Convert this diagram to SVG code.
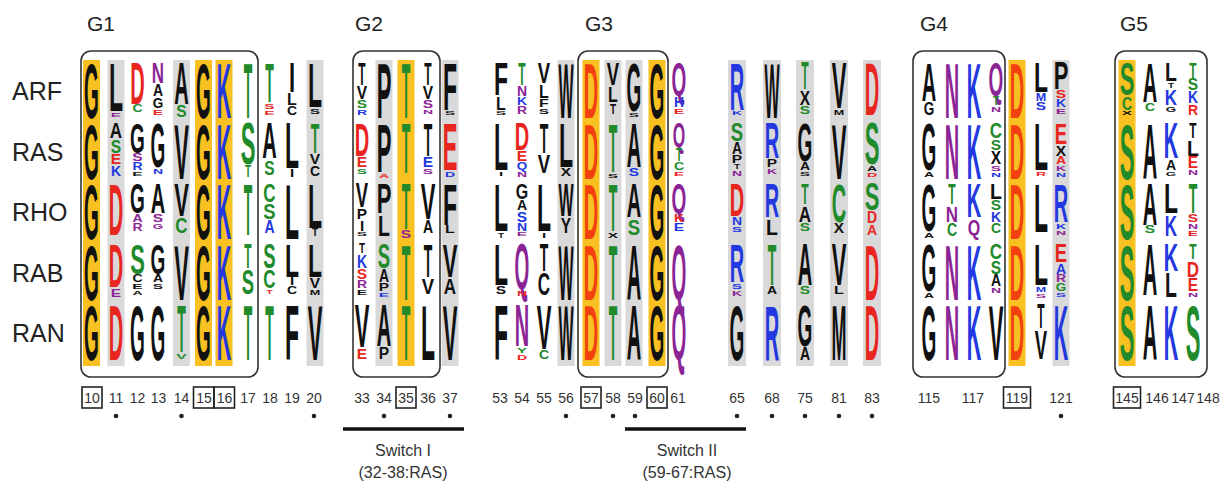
<svg xmlns="http://www.w3.org/2000/svg" width="1224" height="484" viewBox="0 0 1224 484">
<style>
.lg text{font-family:"Liberation Sans",Arial,sans-serif;font-weight:bold;font-size:10px;text-anchor:middle}
.k{fill:#111}.g{fill:#218a2a}.r{fill:#e8251e}.o{fill:#f2400f}.b{fill:#2338e0}.p{fill:#8b2596}
.or{fill:#f8c021}.gy{fill:#d9d9d9}
.box{fill:none;stroke:#333;stroke-width:1.6}
.hd{font-family:"Liberation Sans",Arial,sans-serif;font-size:21px;fill:#222}
.rl{font-family:"Liberation Sans",Arial,sans-serif;font-size:25px;fill:#222}
.num{font-family:"Liberation Sans",Arial,sans-serif;font-size:14px;fill:#333;text-anchor:middle}
.nb{fill:none;stroke:#222;stroke-width:1.6}
.sw{font-family:"Liberation Sans",Arial,sans-serif;font-size:16px;fill:#333;text-anchor:middle}
</style>
<rect width="1224" height="484" fill="#fff"/>
<g id="backgrounds">
<rect class="or" x="83" y="60" width="17" height="306"/>
<rect class="gy" x="107.5" y="60" width="17" height="306"/>
<rect class="gy" x="173" y="60" width="17" height="306"/>
<rect class="or" x="195" y="60" width="17" height="306"/>
<rect class="or" x="215.5" y="60" width="17" height="306"/>
<rect class="gy" x="306.5" y="60" width="17" height="306"/>
<rect class="gy" x="375.5" y="60" width="17" height="306"/>
<rect class="or" x="397.5" y="60" width="17" height="306"/>
<rect class="gy" x="441.5" y="60" width="17" height="306"/>
<rect class="gy" x="557.5" y="60" width="17" height="306"/>
<rect class="or" x="582.5" y="60" width="17" height="306"/>
<rect class="gy" x="604.5" y="60" width="17" height="306"/>
<rect class="gy" x="625.5" y="60" width="17" height="306"/>
<rect class="or" x="648.5" y="60" width="17" height="306"/>
<rect class="gy" x="728" y="60" width="18" height="306"/>
<rect class="gy" x="763" y="60" width="18" height="306"/>
<rect class="gy" x="796" y="60" width="18" height="306"/>
<rect class="gy" x="830" y="60" width="18" height="306"/>
<rect class="gy" x="863" y="60" width="18" height="306"/>
<rect class="or" x="1008.5" y="60" width="17" height="306"/>
<rect class="gy" x="1052.5" y="60" width="17" height="306"/>
<rect class="or" x="1118.5" y="60" width="17" height="306"/>
</g>
<g id="headers">
<text class="hd" x="87" y="31">G1</text>
<text class="hd" x="355" y="31">G2</text>
<text class="hd" x="585" y="31">G3</text>
<text class="hd" x="920" y="31">G4</text>
<text class="hd" x="1120" y="31">G5</text>
</g>
<g id="row-labels">
<text class="rl" x="12" y="100">ARF</text>
<text class="rl" x="12" y="160.5">RAS</text>
<text class="rl" x="12" y="221">RHO</text>
<text class="rl" x="12" y="281.5">RAB</text>
<text class="rl" x="12" y="342">RAN</text>
</g>
<g class="lg">
<g id="row-ARF" transform="translate(0,61)">
<text class="k" transform="matrix(1.9 0 0 7.85 91.5 57.2)">G</text>
<text class="k" transform="matrix(2.3 0 0 6.88 116 50.2)">L</text>
<text class="p" transform="matrix(1.55 0 0 .6 116 56)">E</text>
<text class="r" transform="matrix(2 0 0 5.83 137.5 42.7)">D</text>
<text class="g" transform="matrix(1.4 0 0 1 137.5 51.4)">C</text>
<text class="p" transform="matrix(1.7 0 0 3.01 158 22.4)">N</text>
<text class="k" transform="matrix(1.4 0 0 1.56 158 35.2)">A</text>
<text class="k" transform="matrix(1.35 0 0 1.4 158 46.8)">G</text>
<text class="r" transform="matrix(1.55 0 0 .76 158 53.7)">E</text>
<text class="k" transform="matrix(2 0 0 5.83 181.5 42.7)">A</text>
<text class="g" transform="matrix(1.55 0 0 1.56 181.5 55.5)">S</text>
<text class="k" transform="matrix(1.9 0 0 7.85 203.5 57.2)">G</text>
<text class="b" transform="matrix(2 0 0 7.85 224 57.2)">K</text>
<text class="g" transform="matrix(1.4 0 0 7.85 248 57.2)">T</text>
<text class="g" transform="matrix(1.4 0 0 5.59 269.5 41)">T</text>
<text class="r" transform="matrix(1.55 0 0 .76 269.5 47.9)">S</text>
<text class="r" transform="matrix(1.55 0 0 .6 269.5 53.7)">E</text>
<text class="k" transform="matrix(2.2 0 0 4.22 292 31.1)">I</text>
<text class="k" transform="matrix(1.6 0 0 1.56 292 43.9)">L</text>
<text class="k" transform="matrix(1.4 0 0 1.24 292 54.3)">C</text>
<text class="k" transform="matrix(2.3 0 0 6.24 315 45.6)">L</text>
<text class="k" transform="matrix(1.55 0 0 .76 315 52.6)">S</text>
<text class="k" transform="matrix(1.2 0 0 3.17 362 23.6)">T</text>
<text class="k" transform="matrix(1.55 0 0 1.81 362 38)">V</text>
<text class="g" transform="matrix(1.55 0 0 1 362 46.8)">S</text>
<text class="b" transform="matrix(1.4 0 0 .76 362 53.7)">R</text>
<text class="k" transform="matrix(2.2 0 0 7.85 384 57.2)">P</text>
<text class="g" transform="matrix(1.4 0 0 7.85 406 57.2)">T</text>
<text class="k" transform="matrix(1.2 0 0 3.17 428 23.6)">T</text>
<text class="k" transform="matrix(1.55 0 0 1.81 428 38)">V</text>
<text class="p" transform="matrix(1.55 0 0 1 428 46.8)">S</text>
<text class="p" transform="matrix(1.4 0 0 .6 428 52.6)">N</text>
<text class="k" transform="matrix(2.3 0 0 6.64 450 48.5)">F</text>
<text class="k" transform="matrix(1.55 0 0 .6 450 54.3)">S</text>
<text class="k" transform="matrix(2.3 0 0 4.63 501 34)">F</text>
<text class="k" transform="matrix(1.6 0 0 1.81 501 48.5)">L</text>
<text class="k" transform="matrix(1.55 0 0 .6 501 54.3)">S</text>
<text class="g" transform="matrix(1.2 0 0 3.17 522 23.6)">T</text>
<text class="p" transform="matrix(1.4 0 0 1.4 522 35.2)">N</text>
<text class="b" transform="matrix(1.4 0 0 1 522 43.9)">K</text>
<text class="p" transform="matrix(1.4 0 0 1 522 52.6)">R</text>
<text class="k" transform="matrix(1.85 0 0 3.01 544 22.4)">V</text>
<text class="k" transform="matrix(1.6 0 0 1.81 544 36.9)">L</text>
<text class="k" transform="matrix(1.6 0 0 1 544 45.6)">F</text>
<text class="k" transform="matrix(1.55 0 0 .76 544 52.6)">S</text>
<text class="k" transform="matrix(1.6 0 0 7.85 566 57.2)">W</text>
<text class="o" transform="matrix(2 0 0 7.85 591 57.2)">D</text>
<text class="k" transform="matrix(1.85 0 0 3.17 613 23.6)">V</text>
<text class="k" transform="matrix(1.6 0 0 2.21 613 41)">L</text>
<text class="k" transform="matrix(1 0 0 1.4 613 52.6)">T</text>
<text class="k" transform="matrix(1.9 0 0 6.88 634 50.2)">G</text>
<text class="k" transform="matrix(1.55 0 0 .6 634 56)">S</text>
<text class="k" transform="matrix(1.9 0 0 7.85 657 57.2)">G</text>
<text class="p" transform="matrix(1.9 0 0 4.63 679 34)">Q</text>
<text class="b" transform="matrix(1.4 0 0 1.4 679 45.6)">H</text>
<text class="r" transform="matrix(1.55 0 0 .76 679 52.6)">E</text>
<text class="b" transform="matrix(2 0 0 6.64 737 48.5)">R</text>
<text class="b" transform="matrix(1.4 0 0 .6 737 54.3)">K</text>
<text class="k" transform="matrix(1.6 0 0 7.85 772 57.2)">W</text>
<text class="g" transform="matrix(1.2 0 0 3.82 805 28.2)">T</text>
<text class="k" transform="matrix(1.55 0 0 2.05 805 44.4)">X</text>
<text class="g" transform="matrix(1.55 0 0 1 805 53.1)">S</text>
<text class="k" transform="matrix(2.2 0 0 6.4 839 46.8)">V</text>
<text class="k" transform="matrix(1.26 0 0 .76 839 53.7)">M</text>
<text class="r" transform="matrix(2 0 0 7.44 872 54.3)">D</text>
<text class="k" transform="matrix(2 0 0 5.43 929 39.8)">A</text>
<text class="k" transform="matrix(1.35 0 0 1.81 929 54.3)">G</text>
<text class="p" transform="matrix(2 0 0 7.85 952 57.2)">N</text>
<text class="b" transform="matrix(2 0 0 7.85 974 57.2)">K</text>
<text class="p" transform="matrix(1.9 0 0 4.63 996 34)">Q</text>
<text class="g" transform="matrix(1 0 0 1.24 996 44.4)">T</text>
<text class="p" transform="matrix(1.4 0 0 .76 996 51.4)">N</text>
<text class="o" transform="matrix(2 0 0 7.85 1017 57.2)">D</text>
<text class="k" transform="matrix(2.3 0 0 4.22 1041 31.1)">L</text>
<text class="b" transform="matrix(1.26 0 0 1 1041 39.8)">M</text>
<text class="b" transform="matrix(1.55 0 0 1 1041 48.5)">S</text>
<text class="k" transform="matrix(2.2 0 0 3.82 1061 28.2)">P</text>
<text class="r" transform="matrix(1.55 0 0 1 1061 36.9)">S</text>
<text class="b" transform="matrix(1.4 0 0 1 1061 45.6)">K</text>
<text class="p" transform="matrix(1.55 0 0 .76 1061 52.6)">E</text>
<text class="g" transform="matrix(2.2 0 0 4.63 1127 34)">S</text>
<text class="g" transform="matrix(1.4 0 0 1.81 1127 48.5)">C</text>
<text class="k" transform="matrix(1.55 0 0 .6 1127 54.3)">X</text>
<text class="k" transform="matrix(2 0 0 5.59 1150 41)">A</text>
<text class="g" transform="matrix(1.4 0 0 1 1150 49.7)">C</text>
<text class="k" transform="matrix(1.95 0 0 2.61 1171 19.5)">L</text>
<text class="k" transform="matrix(1 0 0 .76 1171 26.5)">T</text>
<text class="b" transform="matrix(1.7 0 0 2.21 1171 43.9)">K</text>
<text class="k" transform="matrix(1.35 0 0 .76 1171 50.8)">G</text>
<text class="g" transform="matrix(1.2 0 0 2.21 1193 16.6)">T</text>
<text class="g" transform="matrix(1.55 0 0 1.56 1193 29.4)">S</text>
<text class="b" transform="matrix(1.4 0 0 1.56 1193 42.1)">K</text>
<text class="r" transform="matrix(1.4 0 0 1.4 1193 53.7)">R</text>
</g>
<g id="row-RAS" transform="translate(0,121.5)">
<text class="k" transform="matrix(1.9 0 0 7.85 91.5 57.2)">G</text>
<text class="k" transform="matrix(1.7 0 0 2.21 116 16.6)">A</text>
<text class="g" transform="matrix(1.55 0 0 1.81 116 31.1)">S</text>
<text class="r" transform="matrix(1.55 0 0 1.4 116 42.7)">E</text>
<text class="b" transform="matrix(1.4 0 0 1.4 116 54.3)">K</text>
<text class="k" transform="matrix(1.9 0 0 4.22 137.5 31.1)">G</text>
<text class="p" transform="matrix(1.55 0 0 1 137.5 39.8)">S</text>
<text class="b" transform="matrix(1.4 0 0 1 137.5 48.5)">R</text>
<text class="k" transform="matrix(1.55 0 0 .6 137.5 54.3)">E</text>
<text class="k" transform="matrix(1.9 0 0 6.24 158 45.6)">G</text>
<text class="b" transform="matrix(1.4 0 0 .76 158 52.6)">N</text>
<text class="k" transform="matrix(2.2 0 0 7.85 181.5 57.2)">V</text>
<text class="k" transform="matrix(1.9 0 0 7.85 203.5 57.2)">G</text>
<text class="b" transform="matrix(2 0 0 7.85 224 57.2)">K</text>
<text class="g" transform="matrix(2.2 0 0 5.83 248 42.7)">S</text>
<text class="g" transform="matrix(1 0 0 1.56 248 55.5)">T</text>
<text class="k" transform="matrix(2 0 0 5.03 269.5 36.9)">A</text>
<text class="g" transform="matrix(1.55 0 0 2.05 269.5 53.1)">S</text>
<text class="k" transform="matrix(2.3 0 0 6.4 292 46.8)">L</text>
<text class="k" transform="matrix(1.5 0 0 1 292 55.5)">I</text>
<text class="g" transform="matrix(1.4 0 0 4.22 315 31.1)">T</text>
<text class="k" transform="matrix(1.55 0 0 1.4 315 42.7)">V</text>
<text class="k" transform="matrix(1.4 0 0 1.4 315 54.3)">C</text>
<text class="r" transform="matrix(2 0 0 4.63 362 34)">D</text>
<text class="r" transform="matrix(1.55 0 0 1.4 362 45.6)">E</text>
<text class="g" transform="matrix(1.55 0 0 .76 362 52.6)">S</text>
<text class="k" transform="matrix(2.2 0 0 6.88 384 50.2)">P</text>
<text class="r" transform="matrix(1.4 0 0 .6 384 56)">A</text>
<text class="g" transform="matrix(1.4 0 0 7.04 406 51.4)">T</text>
<text class="k" transform="matrix(1.4 0 0 4.63 428 34)">T</text>
<text class="b" transform="matrix(1.55 0 0 1.4 428 45.6)">E</text>
<text class="p" transform="matrix(1.55 0 0 .76 428 52.6)">S</text>
<text class="r" transform="matrix(2.2 0 0 6.64 450 48.5)">E</text>
<text class="b" transform="matrix(1.4 0 0 .76 450 55.5)">D</text>
<text class="k" transform="matrix(2.3 0 0 6.64 501 48.5)">L</text>
<text class="k" transform="matrix(1.5 0 0 .6 501 54.3)">I</text>
<text class="r" transform="matrix(2 0 0 3.82 522 28.2)">D</text>
<text class="r" transform="matrix(1.55 0 0 1.4 522 39.8)">E</text>
<text class="b" transform="matrix(1.35 0 0 1 522 48.5)">Q</text>
<text class="p" transform="matrix(1.4 0 0 .76 522 55.5)">N</text>
<text class="k" transform="matrix(1.4 0 0 4.22 544 31.1)">T</text>
<text class="k" transform="matrix(1.85 0 0 2.61 544 51.4)">V</text>
<text class="k" transform="matrix(2.3 0 0 6.24 566 45.6)">L</text>
<text class="k" transform="matrix(1.55 0 0 1 566 54.3)">X</text>
<text class="o" transform="matrix(2 0 0 7.85 591 57.2)">D</text>
<text class="g" transform="matrix(1.4 0 0 6.88 613 50.2)">T</text>
<text class="k" transform="matrix(1.55 0 0 .6 613 56)">S</text>
<text class="k" transform="matrix(2 0 0 6.24 634 45.6)">A</text>
<text class="b" transform="matrix(1.55 0 0 1 634 54.3)">S</text>
<text class="k" transform="matrix(1.9 0 0 7.85 657 57.2)">G</text>
<text class="p" transform="matrix(1.6 0 0 3.42 679 25.3)">Q</text>
<text class="g" transform="matrix(1 0 0 1.81 679 39.8)">T</text>
<text class="g" transform="matrix(1.4 0 0 1 679 48.5)">C</text>
<text class="r" transform="matrix(1.55 0 0 .6 679 54.3)">E</text>
<text class="g" transform="matrix(1.85 0 0 2.61 737 19.5)">S</text>
<text class="k" transform="matrix(1.4 0 0 1.56 737 32.3)">A</text>
<text class="k" transform="matrix(1.55 0 0 1 737 41)">P</text>
<text class="k" transform="matrix(1 0 0 .76 737 47.9)">T</text>
<text class="p" transform="matrix(1.4 0 0 .76 737 54.9)">N</text>
<text class="b" transform="matrix(2 0 0 5.03 772 36.9)">R</text>
<text class="k" transform="matrix(1.55 0 0 1 772 45.6)">P</text>
<text class="p" transform="matrix(1.4 0 0 .76 772 52.6)">K</text>
<text class="k" transform="matrix(1.9 0 0 5.43 805 39.8)">G</text>
<text class="k" transform="matrix(1.4 0 0 1 805 48.5)">A</text>
<text class="k" transform="matrix(1.55 0 0 .6 805 54.3)">S</text>
<text class="k" transform="matrix(2.2 0 0 7.85 839 57.2)">V</text>
<text class="g" transform="matrix(2.2 0 0 5.83 872 42.7)">S</text>
<text class="k" transform="matrix(1.4 0 0 .76 872 49.7)">A</text>
<text class="r" transform="matrix(1.4 0 0 .6 872 55.5)">D</text>
<text class="k" transform="matrix(1.9 0 0 6.64 929 48.5)">G</text>
<text class="k" transform="matrix(1.4 0 0 .76 929 55.5)">A</text>
<text class="p" transform="matrix(2 0 0 7.85 952 57.2)">N</text>
<text class="b" transform="matrix(2 0 0 7.85 974 57.2)">K</text>
<text class="g" transform="matrix(1.7 0 0 2.21 996 16.6)">C</text>
<text class="g" transform="matrix(1.55 0 0 1.4 996 28.2)">S</text>
<text class="k" transform="matrix(1.55 0 0 1.81 996 42.7)">X</text>
<text class="p" transform="matrix(1.55 0 0 .76 996 49.7)">S</text>
<text class="b" transform="matrix(1.4 0 0 .6 996 55.5)">N</text>
<text class="o" transform="matrix(2 0 0 7.85 1017 57.2)">D</text>
<text class="k" transform="matrix(2.3 0 0 6.64 1041 48.5)">L</text>
<text class="r" transform="matrix(1.4 0 0 .6 1041 54.3)">R</text>
<text class="r" transform="matrix(1.85 0 0 3.01 1061 22.4)">E</text>
<text class="k" transform="matrix(1.55 0 0 1.4 1061 34)">X</text>
<text class="r" transform="matrix(1.4 0 0 1 1061 42.7)">A</text>
<text class="p" transform="matrix(1.4 0 0 .76 1061 49.7)">K</text>
<text class="b" transform="matrix(1.4 0 0 .6 1061 55.5)">N</text>
<text class="g" transform="matrix(2.2 0 0 7.85 1127 57.2)">S</text>
<text class="k" transform="matrix(2 0 0 7.85 1150 57.2)">A</text>
<text class="b" transform="matrix(2 0 0 5.03 1171 36.9)">K</text>
<text class="k" transform="matrix(1.4 0 0 1.4 1171 48.5)">A</text>
<text class="k" transform="matrix(1.35 0 0 .6 1171 54.3)">G</text>
<text class="k" transform="matrix(1.2 0 0 2.21 1193 16.6)">T</text>
<text class="k" transform="matrix(1.95 0 0 2.21 1193 34)">L</text>
<text class="r" transform="matrix(1.55 0 0 1.56 1193 46.8)">E</text>
<text class="p" transform="matrix(1.4 0 0 .76 1193 53.7)">N</text>
</g>
<g id="row-RHO" transform="translate(0,182)">
<text class="k" transform="matrix(1.9 0 0 7.85 91.5 57.2)">G</text>
<text class="r" transform="matrix(2 0 0 7.2 116 52.6)">D</text>
<text class="k" transform="matrix(1.9 0 0 4.22 137.5 31.1)">G</text>
<text class="p" transform="matrix(1.4 0 0 1 137.5 39.8)">A</text>
<text class="p" transform="matrix(1.4 0 0 1 137.5 48.5)">R</text>
<text class="k" transform="matrix(2 0 0 4.22 158 31.1)">A</text>
<text class="p" transform="matrix(1.55 0 0 1 158 39.8)">S</text>
<text class="p" transform="matrix(1.35 0 0 .76 158 46.8)">G</text>
<text class="k" transform="matrix(2.2 0 0 4.63 181.5 34)">V</text>
<text class="g" transform="matrix(1.7 0 0 2.21 181.5 51.4)">C</text>
<text class="k" transform="matrix(1.9 0 0 7.85 203.5 57.2)">G</text>
<text class="b" transform="matrix(2 0 0 7.85 224 57.2)">K</text>
<text class="g" transform="matrix(1.4 0 0 7.2 248 52.6)">T</text>
<text class="g" transform="matrix(1.7 0 0 2.61 269.5 19.5)">C</text>
<text class="g" transform="matrix(1.85 0 0 2.21 269.5 36.9)">S</text>
<text class="b" transform="matrix(1.4 0 0 1.81 269.5 51.4)">A</text>
<text class="k" transform="matrix(2.3 0 0 7.85 292 57.2)">L</text>
<text class="k" transform="matrix(2.3 0 0 6.24 315 45.6)">L</text>
<text class="k" transform="matrix(1 0 0 1 315 54.3)">T</text>
<text class="k" transform="matrix(1.85 0 0 3.42 362 25.3)">V</text>
<text class="k" transform="matrix(1.55 0 0 1.4 362 36.9)">P</text>
<text class="k" transform="matrix(1.5 0 0 1.4 362 48.5)">I</text>
<text class="k" transform="matrix(1.55 0 0 .6 362 54.3)">S</text>
<text class="k" transform="matrix(2.2 0 0 4.22 384 31.1)">P</text>
<text class="k" transform="matrix(1.95 0 0 3.01 384 54.3)">L</text>
<text class="g" transform="matrix(1.4 0 0 6.4 406 46.8)">T</text>
<text class="p" transform="matrix(1.55 0 0 1 406 55.5)">S</text>
<text class="k" transform="matrix(2.2 0 0 5.03 428 36.9)">V</text>
<text class="k" transform="matrix(1.4 0 0 1.81 428 51.4)">A</text>
<text class="k" transform="matrix(2.3 0 0 5.83 450 42.7)">F</text>
<text class="k" transform="matrix(1.6 0 0 1 450 51.4)">L</text>
<text class="k" transform="matrix(2.3 0 0 6.64 501 48.5)">L</text>
<text class="k" transform="matrix(1 0 0 .76 501 55.5)">T</text>
<text class="k" transform="matrix(1.6 0 0 2.21 522 16.6)">G</text>
<text class="k" transform="matrix(1.4 0 0 1.4 522 28.2)">A</text>
<text class="b" transform="matrix(1.55 0 0 1.4 522 39.8)">S</text>
<text class="b" transform="matrix(1.4 0 0 1 522 48.5)">N</text>
<text class="p" transform="matrix(1.55 0 0 .6 522 54.3)">E</text>
<text class="k" transform="matrix(2.3 0 0 6.64 544 48.5)">L</text>
<text class="k" transform="matrix(1.5 0 0 .76 544 55.5)">I</text>
<text class="k" transform="matrix(1.6 0 0 4.63 566 34)">W</text>
<text class="k" transform="matrix(1.55 0 0 2.21 566 51.4)">Y</text>
<text class="o" transform="matrix(2 0 0 7.85 591 57.2)">D</text>
<text class="g" transform="matrix(1.4 0 0 6.64 613 48.5)">T</text>
<text class="k" transform="matrix(1.55 0 0 .76 613 55.5)">X</text>
<text class="k" transform="matrix(2 0 0 4.79 634 35.2)">A</text>
<text class="g" transform="matrix(1.85 0 0 2.21 634 52.6)">S</text>
<text class="k" transform="matrix(1.9 0 0 7.85 657 57.2)">G</text>
<text class="p" transform="matrix(1.9 0 0 4.22 679 31.1)">Q</text>
<text class="r" transform="matrix(1.4 0 0 1 679 39.8)">K</text>
<text class="b" transform="matrix(1.55 0 0 1 679 48.5)">E</text>
<text class="r" transform="matrix(2 0 0 4.63 737 34)">D</text>
<text class="b" transform="matrix(1.4 0 0 1 737 42.7)">N</text>
<text class="b" transform="matrix(1.55 0 0 .76 737 49.7)">S</text>
<text class="b" transform="matrix(2 0 0 4.79 772 35.2)">R</text>
<text class="k" transform="matrix(1.95 0 0 2.21 772 52.6)">L</text>
<text class="g" transform="matrix(1.2 0 0 3.01 805 22.4)">T</text>
<text class="k" transform="matrix(1.7 0 0 2.21 805 39.8)">A</text>
<text class="g" transform="matrix(1.55 0 0 1 805 48.5)">S</text>
<text class="g" transform="matrix(2 0 0 5.43 839 39.8)">C</text>
<text class="k" transform="matrix(1.55 0 0 1.4 839 51.4)">X</text>
<text class="g" transform="matrix(2.2 0 0 3.82 872 28.2)">S</text>
<text class="r" transform="matrix(1.4 0 0 1.56 872 41)">D</text>
<text class="r" transform="matrix(1.4 0 0 1.4 872 52.6)">A</text>
<text class="k" transform="matrix(1.9 0 0 6.64 929 48.5)">G</text>
<text class="k" transform="matrix(1.4 0 0 .76 929 55.5)">A</text>
<text class="g" transform="matrix(1.2 0 0 3.01 952 22.4)">T</text>
<text class="p" transform="matrix(1.7 0 0 2.21 952 39.8)">N</text>
<text class="g" transform="matrix(1.4 0 0 1.81 952 54.3)">C</text>
<text class="b" transform="matrix(2 0 0 4.79 974 35.2)">K</text>
<text class="p" transform="matrix(1.6 0 0 2.21 974 52.6)">Q</text>
<text class="k" transform="matrix(1.95 0 0 2.21 996 16.6)">L</text>
<text class="g" transform="matrix(1.55 0 0 1.4 996 28.2)">S</text>
<text class="b" transform="matrix(1.4 0 0 1.4 996 39.8)">K</text>
<text class="g" transform="matrix(1.4 0 0 1.4 996 51.4)">C</text>
<text class="o" transform="matrix(2 0 0 7.85 1017 57.2)">D</text>
<text class="k" transform="matrix(2.3 0 0 6.88 1041 50.2)">L</text>
<text class="b" transform="matrix(2 0 0 5.43 1061 39.8)">R</text>
<text class="b" transform="matrix(1.4 0 0 .76 1061 46.8)">K</text>
<text class="p" transform="matrix(1.4 0 0 .6 1061 52.6)">N</text>
<text class="g" transform="matrix(2.2 0 0 7.85 1127 57.2)">S</text>
<text class="k" transform="matrix(2 0 0 5.83 1150 42.7)">A</text>
<text class="g" transform="matrix(1.55 0 0 1 1150 51.4)">S</text>
<text class="k" transform="matrix(2.3 0 0 4.22 1171 31.1)">L</text>
<text class="b" transform="matrix(1.7 0 0 3.01 1171 54.3)">K</text>
<text class="g" transform="matrix(1.4 0 0 4.22 1193 31.1)">T</text>
<text class="r" transform="matrix(1.55 0 0 1 1193 39.8)">S</text>
<text class="p" transform="matrix(1.4 0 0 .76 1193 46.8)">N</text>
<text class="r" transform="matrix(1.55 0 0 .76 1193 53.7)">E</text>
</g>
<g id="row-RAB" transform="translate(0,242.5)">
<text class="k" transform="matrix(1.9 0 0 7.85 91.5 57.2)">G</text>
<text class="r" transform="matrix(2 0 0 6.07 116 44.4)">D</text>
<text class="p" transform="matrix(1.55 0 0 1.16 116 54.3)">E</text>
<text class="g" transform="matrix(2.2 0 0 4.22 137.5 31.1)">S</text>
<text class="k" transform="matrix(1.4 0 0 1 137.5 39.8)">C</text>
<text class="k" transform="matrix(1.55 0 0 .76 137.5 46.8)">E</text>
<text class="k" transform="matrix(1.4 0 0 .6 137.5 52.6)">A</text>
<text class="k" transform="matrix(1.9 0 0 4.22 158 31.1)">G</text>
<text class="k" transform="matrix(1.4 0 0 1 158 39.8)">A</text>
<text class="k" transform="matrix(1.55 0 0 .76 158 46.8)">S</text>
<text class="k" transform="matrix(2.2 0 0 7.85 181.5 57.2)">V</text>
<text class="k" transform="matrix(1.9 0 0 7.85 203.5 57.2)">G</text>
<text class="b" transform="matrix(2 0 0 7.85 224 57.2)">K</text>
<text class="g" transform="matrix(1.2 0 0 3.42 248 25.3)">T</text>
<text class="g" transform="matrix(1.85 0 0 3.42 248 51.4)">S</text>
<text class="g" transform="matrix(1.85 0 0 3.42 269.5 25.3)">S</text>
<text class="g" transform="matrix(1.7 0 0 2.61 269.5 45.6)">C</text>
<text class="r" transform="matrix(1 0 0 .6 269.5 51.4)">T</text>
<text class="k" transform="matrix(2.3 0 0 4.63 292 34)">L</text>
<text class="k" transform="matrix(1.5 0 0 1 292 42.7)">I</text>
<text class="k" transform="matrix(1.4 0 0 1 292 51.4)">C</text>
<text class="k" transform="matrix(2.3 0 0 4.63 315 34)">L</text>
<text class="k" transform="matrix(1.55 0 0 1.4 315 45.6)">V</text>
<text class="k" transform="matrix(1.26 0 0 .76 315 52.6)">M</text>
<text class="k" transform="matrix(1 0 0 1.4 362 10.8)">T</text>
<text class="b" transform="matrix(1.4 0 0 1.81 362 25.3)">K</text>
<text class="r" transform="matrix(1.55 0 0 1.4 362 36.9)">S</text>
<text class="p" transform="matrix(1.4 0 0 1 362 45.6)">R</text>
<text class="k" transform="matrix(1.55 0 0 .76 362 52.6)">E</text>
<text class="g" transform="matrix(1.85 0 0 3.42 384 25.3)">S</text>
<text class="k" transform="matrix(1.4 0 0 1.81 384 39.8)">A</text>
<text class="k" transform="matrix(1.55 0 0 1 384 48.5)">P</text>
<text class="b" transform="matrix(1.55 0 0 .6 384 54.3)">E</text>
<text class="g" transform="matrix(1.4 0 0 7.85 406 57.2)">T</text>
<text class="k" transform="matrix(1.4 0 0 4.63 428 34)">T</text>
<text class="k" transform="matrix(1.85 0 0 2.21 428 51.4)">V</text>
<text class="k" transform="matrix(2.2 0 0 4.63 450 34)">V</text>
<text class="k" transform="matrix(1.7 0 0 2.21 450 51.4)">A</text>
<text class="k" transform="matrix(2.3 0 0 5.83 501 42.7)">L</text>
<text class="k" transform="matrix(1.55 0 0 1 501 51.4)">S</text>
<text class="p" transform="matrix(1.9 0 0 6.4 522 46.8)">Q</text>
<text class="r" transform="matrix(1.4 0 0 .76 522 53.7)">N</text>
<text class="k" transform="matrix(1.4 0 0 3.82 544 28.2)">T</text>
<text class="k" transform="matrix(1.7 0 0 3.17 544 52.6)">C</text>
<text class="k" transform="matrix(1.6 0 0 7.85 566 57.2)">W</text>
<text class="o" transform="matrix(2 0 0 7.85 591 57.2)">D</text>
<text class="g" transform="matrix(1.4 0 0 7.85 613 57.2)">T</text>
<text class="k" transform="matrix(2 0 0 7.85 634 57.2)">A</text>
<text class="k" transform="matrix(1.9 0 0 7.85 657 57.2)">G</text>
<text class="p" transform="matrix(1.9 0 0 7.85 679 57.2)">Q</text>
<text class="b" transform="matrix(2 0 0 5.43 737 39.8)">R</text>
<text class="b" transform="matrix(1.55 0 0 .76 737 46.8)">S</text>
<text class="p" transform="matrix(1.4 0 0 .76 737 53.7)">K</text>
<text class="g" transform="matrix(1.4 0 0 5.83 772 42.7)">T</text>
<text class="k" transform="matrix(1.4 0 0 1 772 51.4)">A</text>
<text class="k" transform="matrix(2 0 0 5.83 805 42.7)">A</text>
<text class="g" transform="matrix(1.55 0 0 1 805 51.4)">S</text>
<text class="k" transform="matrix(2.2 0 0 5.83 839 42.7)">V</text>
<text class="k" transform="matrix(1.6 0 0 1 839 51.4)">L</text>
<text class="r" transform="matrix(2 0 0 7.85 872 57.2)">D</text>
<text class="k" transform="matrix(1.9 0 0 6.64 929 48.5)">G</text>
<text class="k" transform="matrix(1.4 0 0 .76 929 55.5)">A</text>
<text class="p" transform="matrix(2 0 0 7.85 952 57.2)">N</text>
<text class="b" transform="matrix(2 0 0 7.85 974 57.2)">K</text>
<text class="g" transform="matrix(1.7 0 0 2.21 996 16.6)">C</text>
<text class="g" transform="matrix(1.55 0 0 1.81 996 31.1)">S</text>
<text class="k" transform="matrix(1.4 0 0 1.56 996 43.9)">A</text>
<text class="p" transform="matrix(1.4 0 0 .76 996 50.8)">N</text>
<text class="o" transform="matrix(2 0 0 7.85 1017 57.2)">D</text>
<text class="k" transform="matrix(2.3 0 0 5.83 1041 42.7)">L</text>
<text class="b" transform="matrix(1.26 0 0 .76 1041 49.7)">M</text>
<text class="p" transform="matrix(1.55 0 0 .6 1041 55.5)">S</text>
<text class="r" transform="matrix(1.85 0 0 2.61 1061 19.5)">E</text>
<text class="b" transform="matrix(1.4 0 0 1.4 1061 31.1)">A</text>
<text class="p" transform="matrix(1.4 0 0 1 1061 39.8)">R</text>
<text class="g" transform="matrix(1.35 0 0 1 1061 48.5)">G</text>
<text class="b" transform="matrix(1.55 0 0 .6 1061 54.3)">S</text>
<text class="g" transform="matrix(2.2 0 0 7.85 1127 57.2)">S</text>
<text class="k" transform="matrix(2 0 0 7.2 1150 52.6)">A</text>
<text class="b" transform="matrix(2 0 0 3.82 1171 28.2)">K</text>
<text class="k" transform="matrix(1.95 0 0 3.42 1171 54.3)">L</text>
<text class="g" transform="matrix(1.2 0 0 2.21 1193 16.6)">T</text>
<text class="r" transform="matrix(1.7 0 0 2.21 1193 34)">D</text>
<text class="r" transform="matrix(1.55 0 0 1.81 1193 48.5)">E</text>
<text class="p" transform="matrix(1.4 0 0 .6 1193 54.3)">N</text>
</g>
<g id="row-RAN" transform="translate(0,303)">
<text class="k" transform="matrix(1.9 0 0 7.85 91.5 57.2)">G</text>
<text class="r" transform="matrix(2 0 0 7.85 116 57.2)">D</text>
<text class="k" transform="matrix(1.9 0 0 7.85 137.5 57.2)">G</text>
<text class="k" transform="matrix(1.9 0 0 7.85 158 57.2)">G</text>
<text class="g" transform="matrix(1.4 0 0 6.64 181.5 48.5)">T</text>
<text class="g" transform="matrix(1.55 0 0 .76 181.5 55.5)">V</text>
<text class="k" transform="matrix(1.9 0 0 7.85 203.5 57.2)">G</text>
<text class="b" transform="matrix(2 0 0 7.85 224 57.2)">K</text>
<text class="g" transform="matrix(1.4 0 0 7.85 248 57.2)">T</text>
<text class="g" transform="matrix(1.4 0 0 7.85 269.5 57.2)">T</text>
<text class="k" transform="matrix(2.3 0 0 7.85 292 57.2)">F</text>
<text class="k" transform="matrix(2.2 0 0 7.85 315 57.2)">V</text>
<text class="k" transform="matrix(2.2 0 0 6.07 362 44.4)">V</text>
<text class="r" transform="matrix(1.55 0 0 1.4 362 56)">E</text>
<text class="k" transform="matrix(2 0 0 5.83 384 42.7)">A</text>
<text class="k" transform="matrix(1.55 0 0 1.56 384 55.5)">P</text>
<text class="g" transform="matrix(1.4 0 0 7.85 406 57.2)">T</text>
<text class="k" transform="matrix(2.3 0 0 7.85 428 57.2)">L</text>
<text class="k" transform="matrix(2.2 0 0 7.85 450 57.2)">V</text>
<text class="k" transform="matrix(2.3 0 0 7.85 501 57.2)">F</text>
<text class="p" transform="matrix(2 0 0 5.83 522 42.7)">N</text>
<text class="g" transform="matrix(1.55 0 0 .76 522 49.7)">Y</text>
<text class="r" transform="matrix(1.4 0 0 .76 522 56.6)">D</text>
<text class="k" transform="matrix(2.2 0 0 6.24 544 45.6)">V</text>
<text class="g" transform="matrix(1.4 0 0 1.24 544 56)">C</text>
<text class="k" transform="matrix(1.6 0 0 7.85 566 57.2)">W</text>
<text class="o" transform="matrix(2 0 0 7.85 591 57.2)">D</text>
<text class="g" transform="matrix(1.4 0 0 7.85 613 57.2)">T</text>
<text class="k" transform="matrix(2 0 0 7.85 634 57.2)">A</text>
<text class="k" transform="matrix(1.9 0 0 7.85 657 57.2)">G</text>
<text class="p" transform="matrix(1.9 0 0 7.85 679 57.2)">Q</text>
<text class="k" transform="matrix(1.9 0 0 7.85 737 57.2)">G</text>
<text class="b" transform="matrix(2 0 0 7.85 772 57.2)">R</text>
<text class="k" transform="matrix(1.9 0 0 5.83 805 42.7)">G</text>
<text class="k" transform="matrix(1.4 0 0 1.81 805 57.2)">A</text>
<text class="k" transform="matrix(1.8 0 0 7.85 839 57.2)">M</text>
<text class="r" transform="matrix(2 0 0 7.85 872 57.2)">D</text>
<text class="k" transform="matrix(1.9 0 0 7.85 929 57.2)">G</text>
<text class="p" transform="matrix(2 0 0 7.85 952 57.2)">N</text>
<text class="b" transform="matrix(2 0 0 7.85 974 57.2)">K</text>
<text class="k" transform="matrix(2.2 0 0 7.85 996 57.2)">V</text>
<text class="o" transform="matrix(2 0 0 7.85 1017 57.2)">D</text>
<text class="k" transform="matrix(1.2 0 0 3.42 1041 25.3)">T</text>
<text class="k" transform="matrix(1.85 0 0 3.98 1041 55.5)">V</text>
<text class="b" transform="matrix(2 0 0 7.85 1061 57.2)">K</text>
<text class="g" transform="matrix(2.2 0 0 7.85 1127 57.2)">S</text>
<text class="k" transform="matrix(2 0 0 7.85 1150 57.2)">A</text>
<text class="b" transform="matrix(2 0 0 7.85 1171 57.2)">K</text>
<text class="g" transform="matrix(2.2 0 0 7.85 1193 57.2)">S</text>
</g>
</g>
<g id="motif-boxes">
<rect id="G1" class="box" x="81" y="51" width="177" height="326" rx="10"/>
<rect id="G2" class="box" x="353" y="51" width="87" height="326" rx="10"/>
<rect id="G3" class="box" x="578" y="51" width="90" height="326" rx="10"/>
<rect id="G4" class="box" x="913" y="51" width="92" height="326" rx="10"/>
<rect id="G5" class="box" x="1115" y="51" width="92" height="326" rx="10"/>
</g>
<g id="positions">
<rect class="nb" x="82" y="387" width="20" height="21"/>
<rect class="nb" x="193.5" y="387" width="20.5" height="21"/>
<rect class="nb" x="214" y="387" width="20.5" height="21"/>
<rect class="nb" x="396" y="387" width="20" height="21"/>
<rect class="nb" x="581" y="387" width="20" height="21"/>
<rect class="nb" x="647" y="387" width="20" height="21"/>
<rect class="nb" x="1003.5" y="387" width="27" height="21"/>
<rect class="nb" x="1113.5" y="387" width="27" height="21"/>
<text class="num" x="92" y="403">10</text>
<text class="num" x="116" y="403">11</text>
<text class="num" x="137.5" y="403">12</text>
<text class="num" x="158.5" y="403">13</text>
<text class="num" x="181.5" y="403">14</text>
<text class="num" x="204" y="403">15</text>
<text class="num" x="224.5" y="403">16</text>
<text class="num" x="248" y="403">17</text>
<text class="num" x="270" y="403">18</text>
<text class="num" x="292" y="403">19</text>
<text class="num" x="314" y="403">20</text>
<text class="num" x="362" y="403">33</text>
<text class="num" x="384" y="403">34</text>
<text class="num" x="406" y="403">35</text>
<text class="num" x="428" y="403">36</text>
<text class="num" x="450" y="403">37</text>
<text class="num" x="500" y="403">53</text>
<text class="num" x="522" y="403">54</text>
<text class="num" x="544" y="403">55</text>
<text class="num" x="566" y="403">56</text>
<text class="num" x="591" y="403">57</text>
<text class="num" x="613" y="403">58</text>
<text class="num" x="635" y="403">59</text>
<text class="num" x="657" y="403">60</text>
<text class="num" x="678" y="403">61</text>
<text class="num" x="737" y="403">65</text>
<text class="num" x="772" y="403">68</text>
<text class="num" x="805" y="403">75</text>
<text class="num" x="839" y="403">81</text>
<text class="num" x="872" y="403">83</text>
<text class="num" x="929" y="403">115</text>
<text class="num" x="973" y="403">117</text>
<text class="num" x="1017" y="403">119</text>
<text class="num" x="1061" y="403">121</text>
<text class="num" x="1127" y="403">145</text>
<text class="num" x="1157" y="403">146</text>
<text class="num" x="1183" y="403">147</text>
<text class="num" x="1208" y="403">148</text>
</g>
<g id="stars" fill="#222">
<circle cx="116" cy="416" r="2.3"/>
<circle cx="181.5" cy="416" r="2.3"/>
<circle cx="314" cy="416" r="2.3"/>
<circle cx="384" cy="416" r="2.3"/>
<circle cx="450" cy="416" r="2.3"/>
<circle cx="566" cy="416" r="2.3"/>
<circle cx="613" cy="416" r="2.3"/>
<circle cx="635" cy="416" r="2.3"/>
<circle cx="737" cy="416" r="2.3"/>
<circle cx="772" cy="416" r="2.3"/>
<circle cx="805" cy="416" r="2.3"/>
<circle cx="839" cy="416" r="2.3"/>
<circle cx="872" cy="416" r="2.3"/>
<circle cx="1061" cy="416" r="2.3"/>
</g>
<g id="switches">
<line x1="343" y1="429" x2="464" y2="429" stroke="#111" stroke-width="3.5"/>
<text class="sw" x="403" y="456">Switch I</text>
<text class="sw" x="403" y="478">(32-38:RAS)</text>
<line x1="625" y1="429" x2="746" y2="429" stroke="#111" stroke-width="3.5"/>
<text class="sw" x="687" y="456">Switch II</text>
<text class="sw" x="687" y="478">(59-67:RAS)</text>
</g>
</svg>
